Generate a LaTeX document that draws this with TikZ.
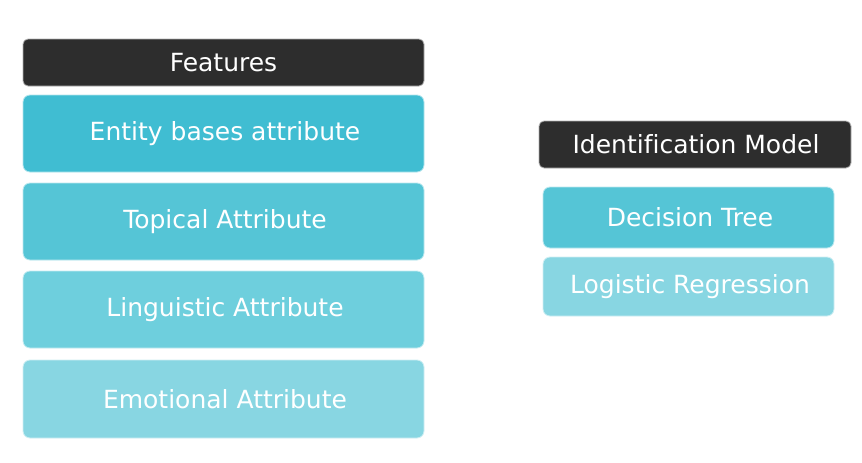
\documentclass[tikz,border=0pt]{standalone}
\usepackage{fontspec}
\setmainfont[Ligatures=NoCommon]{DejaVu Sans}
\definecolor{darkbox}{HTML}{2D2D2D}
\definecolor{tealA}{HTML}{40BDD2}
\definecolor{tealB}{HTML}{55C5D6}
\definecolor{tealC}{HTML}{6ECFDD}
\definecolor{tealD}{HTML}{88D6E2}
\begin{document}
\begin{tikzpicture}[x=1pt,y=-1pt,
  box/.style={rectangle,rounded corners=7pt,inner sep=0pt,text=white,
    font=\fontsize{25}{29}\selectfont,line width=0.8pt},
  headbox/.style={box,fill=darkbox,draw=gray!60,rounded corners=5pt},
]
\useasboundingbox (0,0) rectangle (862,463);
\fill[white] (0,0) rectangle (862,463);
% left column
\node[headbox,minimum width=401pt,minimum height=47pt] (feat) at (223.5,62.5) {Features};
\node[box,fill=tealA,draw=tealA!40!white,minimum width=401pt,minimum height=77pt] (ent) at (223.5,133.5) {\hspace{3pt}Entity bases attribute};
\node[box,fill=tealB,draw=tealB!40!white,minimum width=401pt,minimum height=77pt] (top) at (223.5,221.5) {\hspace{3pt}Topical Attribute};
\node[box,fill=tealC,draw=tealC!40!white,minimum width=401pt,minimum height=77pt] (lin) at (223.5,309.5) {\hspace{3pt}Linguistic Attribute};
\node[box,fill=tealD,draw=tealD!40!white,minimum width=401pt,minimum height=78pt] (emo) at (223.5,399) {\hspace{3pt}Emotional Attribute};
% right column
\node[headbox,minimum width=312pt,minimum height=47pt] (idm) at (695,144.5) {\hspace{2pt}Identification Model};
\node[box,fill=tealB,draw=tealB!40!white,minimum width=291pt,minimum height=61pt] (dt) at (688.5,217.5) {\hspace{3pt}Decision Tree};
\node[box,fill=tealD,draw=tealD!40!white,minimum width=291pt,minimum height=59pt] (lr) at (688.5,286.5) {\hspace{3pt}Logistic Regression};
\end{tikzpicture}
\end{document}
